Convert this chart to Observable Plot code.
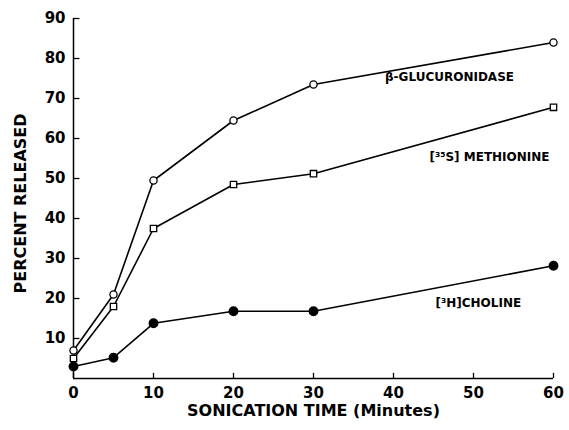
<!DOCTYPE html>
<html>
<head>
<meta charset="utf-8">
<script src="https://cdn.jsdelivr.net/npm/d3@7"></script>
<script src="https://cdn.jsdelivr.net/npm/@observablehq/plot@0.6"></script>
<style>
  html, body { margin: 0; padding: 0; background: #fff; }
  svg { font-family: "DejaVu Sans", sans-serif; font-weight: bold; }
</style>
</head>
<body>
<div id="chart"></div>
<script>
const times = [0, 5, 10, 20, 30, 60];
const glucuronidase = [7, 21, 49.5, 64.5, 73.5, 84];
const methionine = [5, 18, 37.5, 48.5, 51.2, 67.8];
const choline = [3, 5.2, 13.8, 16.8, 16.8, 28.2];

const xTicks = [0, 10, 20, 30, 40, 50, 60];
const yTicks = [10, 20, 30, 40, 50, 60, 70, 80, 90];

const seriesNames = ["β-GLUCURONIDASE", "[³⁵S] METHIONINE", "[³H]CHOLINE"];
const labelX = [47, 52, 50.6];
const labelY = [75.3, 55.3, 18.8];

const series = [glucuronidase, methionine, choline];
const data = series.flatMap((vals, i) => times.map((t, j) => ({t, v: vals[j], s: seriesNames[i]})));
const labels = seriesNames.map((name, i) => ({name, x: labelX[i], y: labelY[i]}));

const chart = Plot.plot({
  width: 569,
  height: 430,
  marginLeft: 73,
  marginRight: 16,
  marginTop: 18,
  marginBottom: 52,
  x: {domain: [0, 60]},
  y: {domain: [0, 90]},
  marks: [
    Plot.ruleX([0], {y1: 0, y2: 90, stroke: "black", strokeWidth: 1.5}),
    Plot.ruleY([0], {x1: 0, x2: 60, stroke: "black", strokeWidth: 1.5}),
    Plot.ruleY(yTicks, {x1: 0, x2: 0.8, stroke: "black", strokeWidth: 1.3}),
    Plot.ruleX(xTicks, {y1: 0, y2: 1.3, stroke: "black", strokeWidth: 1.3}),
    Plot.axisX({ticks: xTicks, tickSize: 0, tickPadding: 9, label: null, fontSize: 15, fill: "black"}),
    Plot.axisY({ticks: yTicks, tickSize: 0, tickPadding: 8, label: null, fontSize: 15, fill: "black"}),
    Plot.line(data, {x: "t", y: "v", z: "s", stroke: "black", strokeWidth: 1.6}),
    Plot.dot(data.filter(d => d.s === seriesNames[0]), {x: "t", y: "v", r: 3.6, fill: "white", stroke: "black", strokeWidth: 1.3}),
    Plot.dot(data.filter(d => d.s === seriesNames[1]), {x: "t", y: "v", r: 3.6, symbol: "square", fill: "white", stroke: "black", strokeWidth: 1.3}),
    Plot.dot(data.filter(d => d.s === seriesNames[2]), {x: "t", y: "v", r: 4.2, fill: "black", stroke: "black"}),
    Plot.text(labels, {x: "x", y: "y", text: "name", fontSize: 12, fill: "black"}),
    Plot.text(["SONICATION TIME (Minutes)"], {frameAnchor: "bottom", textAnchor: "middle", lineAnchor: "middle", dy: 32, fontSize: 16, fill: "black", style: "letter-spacing:0.5px"}),
    Plot.text(["PERCENT RELEASED"], {frameAnchor: "left", textAnchor: "middle", lineAnchor: "middle", rotate: -90, dx: -53, dy: 5, fontSize: 16, fill: "black", style: "letter-spacing:0.5px"})
  ]
});
document.getElementById("chart").appendChild(chart);
</script>
</body>
</html>
